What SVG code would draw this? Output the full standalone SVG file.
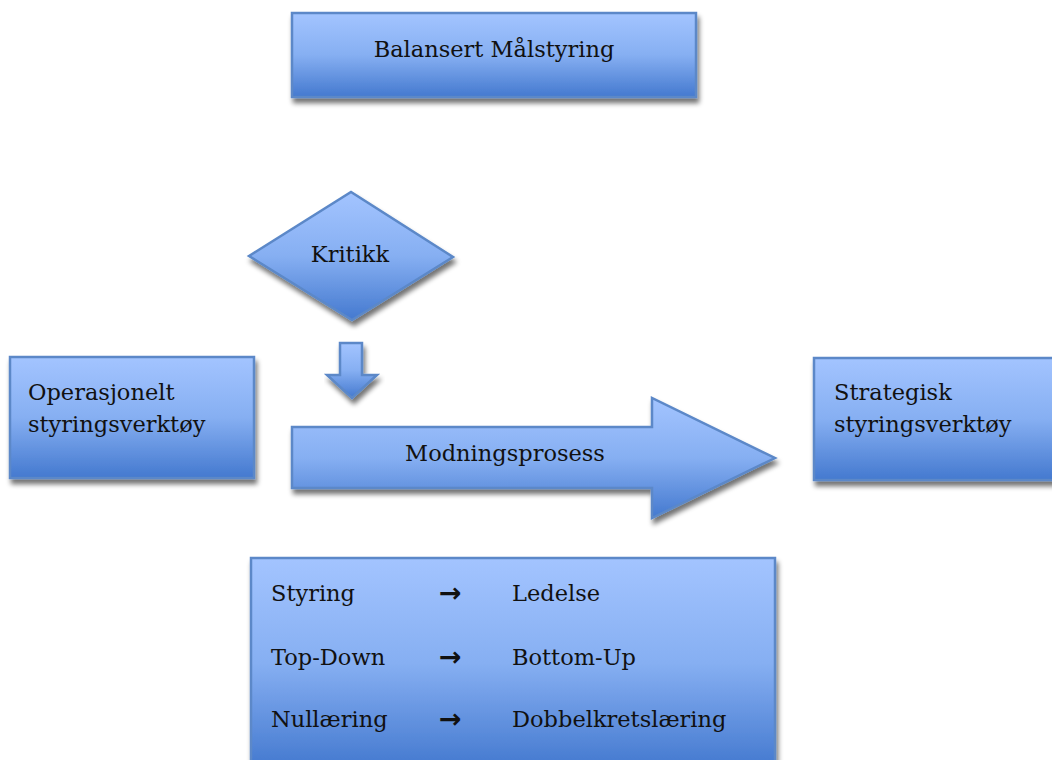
<svg xmlns="http://www.w3.org/2000/svg" width="1052" height="760" viewBox="0 0 1052 760">
<defs>
<linearGradient id="g" x1="0" y1="0" x2="0" y2="1">
<stop offset="0" stop-color="#a3c4ff"/>
<stop offset="0.5" stop-color="#86aff2"/>
<stop offset="1" stop-color="#4479cf"/>
</linearGradient>
<filter id="sh" x="-10%" y="-10%" width="125%" height="130%">
<feGaussianBlur in="SourceAlpha" stdDeviation="2.5"/>
<feOffset dx="2" dy="5" result="b"/>
<feComponentTransfer><feFuncA type="linear" slope="0.55"/></feComponentTransfer>
<feMerge><feMergeNode/><feMergeNode in="SourceGraphic"/></feMerge>
</filter>
</defs>
<style>
.s{fill:url(#g);stroke:#5b88c8;stroke-width:2.5;filter:url(#sh)}
text{font-family:"DejaVu Serif","Liberation Serif",serif;font-size:22.5px;fill:#111}
.c{text-anchor:middle}
.a{font-family:"DejaVu Sans",sans-serif;font-weight:bold;font-size:27px}
</style>
<rect width="1052" height="760" fill="#fff"/>
<g id="balansert">
<rect class="s" x="292" y="13" width="404" height="84"/>
<text class="c" x="494" y="57">Balansert Målstyring</text>
</g>
<g id="kritikk">
<polygon class="s" points="249,256 351,192 453,257 352,320"/>
<text class="c" x="350" y="262">Kritikk</text>
</g>
<g id="connectors">
<polygon class="s" points="340,343 362,343 362,375 377,375 352,398 327,375 340,375"/>
</g>
<g id="operasjonelt">
<rect class="s" x="10" y="357" width="244" height="121"/>
<text x="28" y="400">Operasjonelt</text>
<text x="28" y="432">styringsverktøy</text>
</g>
<g id="modningsprosess">
<polygon class="s" points="292,427 652,427 652,398 775,458 652,518 652,488 292,488"/>
<text class="c" x="505" y="461">Modningsprosess</text>
</g>
<g id="strategisk">
<rect class="s" x="814" y="358" width="246" height="122"/>
<text x="834" y="400">Strategisk</text>
<text x="834" y="432">styringsverktøy</text>
</g>
<g id="overgang">
<rect class="s" x="251" y="558" width="524" height="210"/>
<text x="271" y="601">Styring</text>
<text class="a" x="439" y="602">→</text>
<text x="512" y="601">Ledelse</text>
<text x="271" y="665">Top-Down</text>
<text class="a" x="439" y="666">→</text>
<text x="512" y="665">Bottom-Up</text>
<text x="271" y="727">Nullæring</text>
<text class="a" x="439" y="728">→</text>
<text x="512" y="727">Dobbelkretslæring</text>
</g>
</svg>
